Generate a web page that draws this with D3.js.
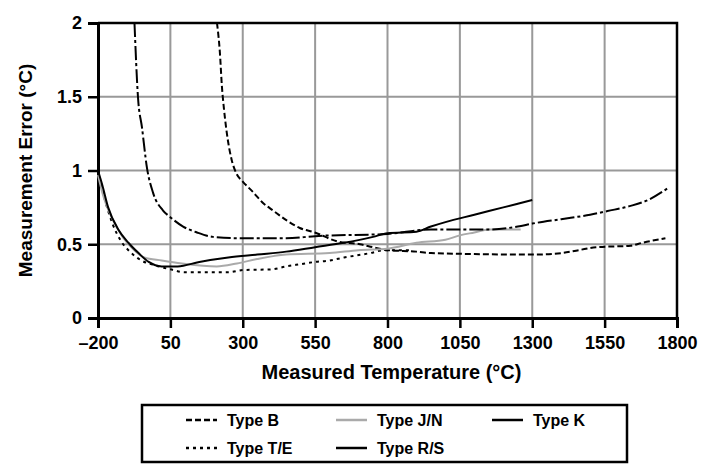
<!DOCTYPE html>
<html>
<head>
<meta charset="utf-8">
<script src="https://cdn.jsdelivr.net/npm/d3@7"></script>
<style>
  body { margin: 0; background: #fff; }
  text { font-family: "Liberation Sans", Arial, sans-serif; fill: #000; }
</style>
</head>
<body>
<svg width="702" height="465"></svg>
<script>
// tick values
const xTicks = [-200, 50, 300, 550, 800, 1050, 1300, 1550, 1800];
const yTicks = [0, 0.5, 1, 1.5, 2];

// [temperature °C, error °C]
const typeB = [[211, 2.0], [221, 1.8], [228, 1.57], [235, 1.42], [249, 1.2], [262, 1.07], [278, 0.98],
  [300, 0.925], [335, 0.855], [370, 0.78], [404, 0.73], [453, 0.66], [497, 0.61], [549, 0.58],
  [625, 0.52], [705, 0.5], [750, 0.48], [800, 0.46], [900, 0.45], [950, 0.44], [1300, 0.43],
  [1400, 0.44], [1460, 0.46], [1520, 0.48], [1640, 0.49], [1680, 0.51], [1760, 0.54]];
const typeTE = [[-200, 1.0], [-180, 0.83], [-150, 0.64], [-120, 0.52], [-90, 0.45], [-50, 0.39],
  [0, 0.355], [50, 0.33], [100, 0.31], [250, 0.31], [300, 0.325], [400, 0.33], [450, 0.35],
  [500, 0.365], [550, 0.38], [600, 0.39], [650, 0.41], [740, 0.44], [790, 0.46], [880, 0.46]];
const typeJN = [[-200, 0.97], [-185, 0.85], [-150, 0.67], [-115, 0.55], [-80, 0.47], [-40, 0.41],
  [20, 0.39], [90, 0.37], [210, 0.35], [280, 0.37], [350, 0.4], [450, 0.43], [600, 0.44],
  [700, 0.46], [800, 0.47], [900, 0.51], [1000, 0.53], [1050, 0.56], [1100, 0.58], [1150, 0.6], [1260, 0.6]];
const typeK = [[-200, 1.0], [-185, 0.9], [-165, 0.75], [-130, 0.6], [-95, 0.51], [-60, 0.44],
  [-25, 0.38], [20, 0.35], [75, 0.35], [150, 0.38], [250, 0.41], [350, 0.43], [450, 0.45],
  [550, 0.48], [650, 0.51], [750, 0.55], [800, 0.575], [900, 0.585], [950, 0.62], [1000, 0.65],
  [1100, 0.7], [1200, 0.75], [1300, 0.8]];
const typeRS = [[-74, 2.0], [-62, 1.5], [-48, 1.29], [-31, 1.02], [-10, 0.85], [24, 0.73],
  [49, 0.685], [94, 0.62], [142, 0.58], [197, 0.55], [300, 0.54], [450, 0.54], [550, 0.555],
  [800, 0.57], [950, 0.6], [1150, 0.6], [1250, 0.62], [1300, 0.64], [1400, 0.67], [1500, 0.7],
  [1560, 0.725], [1640, 0.76], [1700, 0.8], [1768, 0.88]];

const series = [
  { name: 'Type B', data: typeB, color: '#000', dash: '6,3' },
  { name: 'Type T/E', data: typeTE, color: '#000', dash: '3,4' },
  { name: 'Type J/N', data: typeJN, color: '#aaa', dash: null },
  { name: 'Type R/S', data: typeRS, color: '#000', dash: '14,3,3,3' },
  { name: 'Type K', data: typeK, color: '#000', dash: null }
];

const svg = d3.select('svg'),
      margin = { top: 23, right: 25, bottom: 147, left: 98 },
      width = +svg.attr('width') - margin.left - margin.right,
      height = +svg.attr('height') - margin.top - margin.bottom;

const x = d3.scaleLinear().domain([-200, 1800]).range([margin.left, margin.left + width]);
const y = d3.scaleLinear().domain([0, 2]).range([margin.top + height, margin.top]);

// grid
svg.append('g').selectAll('line')
  .data(xTicks.slice(1, -1))
  .enter().append('line')
    .attr('x1', d => x(d)).attr('x2', d => x(d))
    .attr('y1', y(0)).attr('y2', y(2))
    .attr('stroke', '#999').attr('stroke-width', 2);
svg.append('g').selectAll('line')
  .data(yTicks.slice(1, -1))
  .enter().append('line')
    .attr('x1', x(-200)).attr('x2', x(1800))
    .attr('y1', d => y(d)).attr('y2', d => y(d))
    .attr('stroke', '#999').attr('stroke-width', 2);

// frame top and right
svg.append('path')
  .attr('d', 'M' + x(-200) + ',' + y(2) + 'H' + x(1800) + 'V' + y(0))
  .attr('fill', 'none').attr('stroke', '#000').attr('stroke-width', 2.5);

// axes
const yAxis = d3.axisLeft(y).tickValues(yTicks).tickSize(10).tickPadding(6)
  .tickFormat(d => d);
const xAxis = d3.axisBottom(x).tickValues(xTicks).tickSize(10).tickPadding(8)
  .tickFormat(d => d < 0 ? '\u2013' + Math.abs(d) : d);

const gy = svg.append('g').attr('transform', 'translate(' + margin.left + ',0)').call(yAxis);
const gx = svg.append('g').attr('transform', 'translate(0,' + y(0) + ')').call(xAxis);
[gx, gy].forEach(g => {
  g.select('.domain').attr('stroke', '#000').attr('stroke-width', 3);
  g.selectAll('.tick line').attr('stroke', '#000').attr('stroke-width', 2.5);
  g.selectAll('.tick text').attr('font-size', 18).attr('font-weight', 'bold')
    .attr('font-family', '"Liberation Sans", Arial, sans-serif');
});

// curves
const line = d3.line()
  .x(d => x(d[0]))
  .y(d => y(d[1]))
  .curve(d3.curveMonotoneX);

svg.append('g').selectAll('path')
  .data(series)
  .enter().append('path')
    .attr('d', d => line(d.data))
    .attr('fill', 'none')
    .attr('stroke', d => d.color)
    .attr('stroke-width', 2)
    .attr('stroke-dasharray', d => d.dash);

// axis titles
svg.append('text')
  .attr('x', (x(-200) + x(1800)) / 2 + 4)
  .attr('y', 379)
  .attr('text-anchor', 'middle')
  .attr('font-size', 20)
  .attr('font-weight', 'bold')
  .text('Measured Temperature (°C)');

svg.append('text')
  .attr('transform', 'translate(32,' + (y(0) + y(2)) / 2 + ') rotate(-90)')
  .attr('text-anchor', 'middle')
  .attr('font-size', 19)
  .attr('font-weight', 'bold')
  .text('Measurement Error (°C)');

// legend
svg.append('rect')
  .attr('x', 142).attr('y', 405)
  .attr('width', 485).attr('height', 57)
  .attr('fill', 'none').attr('stroke', '#000').attr('stroke-width', 2.5);

const legendPos = [[186, 420], [186, 448], [336, 420], [336, 448], [492, 420]];
const legendOrder = ['Type B', 'Type T/E', 'Type J/N', 'Type R/S', 'Type K'];

const lg = svg.append('g').selectAll('g')
  .data(legendOrder.map(n => series.find(s => s.name === n)))
  .enter().append('g')
    .attr('transform', (d, i) => 'translate(' + legendPos[i][0] + ',' + legendPos[i][1] + ')');
lg.append('line')
  .attr('x1', 0).attr('x2', 31)
  .attr('stroke', d => d.color)
  .attr('stroke-width', 2.5)
  .attr('stroke-dasharray', d => d.name === 'Type R/S' ? null : d.dash);
lg.append('text')
  .attr('x', 41).attr('dy', '0.35em')
  .attr('font-size', 16)
  .attr('font-weight', 'bold')
  .text(d => d.name);
</script>
</body>
</html>
